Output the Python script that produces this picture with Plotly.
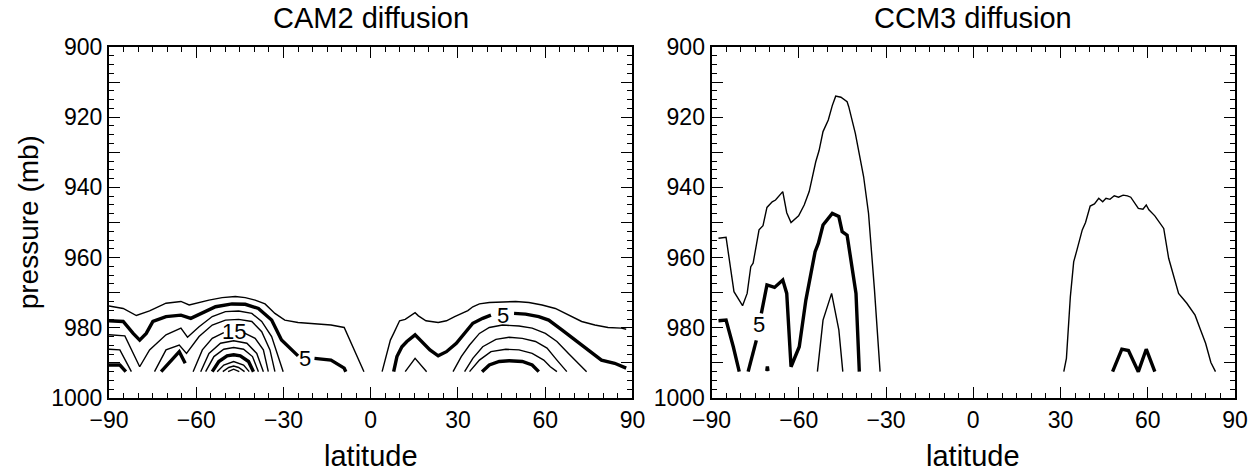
import plotly.graph_objects as go

# ---------------- CAM2 diffusion (left panel) contour lines ----------------
# latitude (deg) / pressure (mb) along each contour segment
cam2_s_outer_lat = [-90.0, -85.12, -80.6, -76.05, -70.4, -65.27, -62.44, -55.63, -51.1, -46.56, -43.16,
                    -39.75, -36.35, -32.95, -29.55, -25.0, -13.67, -9.13, -2.33]
cam2_s_outer_p = [973.8, 974.5, 976.5, 975.2, 973.0, 972.5, 973.5, 972.1, 971.4, 971.1, 971.4,
                  972.1, 973.2, 975.9, 977.8, 978.5, 979.2, 979.9, 992.5]

cam2_s_five_a_lat = [-90.0, -85.12, -81.7, -79.45, -77.2, -74.9, -70.4, -65.27, -61.87, -56.77, -53.36,
                     -47.7, -43.16, -38.62, -34.08, -30.68, -27.28, -25.0]
cam2_s_five_a_p = [978.0, 978.2, 981.6, 983.5, 981.6, 978.2, 976.8, 976.4, 977.3, 975.4, 974.0,
                   973.2, 973.3, 974.5, 977.8, 983.5, 986.3, 988.0]
cam2_s_five_b_lat = [-19.34, -13.67, -9.13, -8.56]
cam2_s_five_b_p = [988.7, 989.2, 991.5, 992.5]

cam2_s_c3_lat = [-90.0, -84.55, -79.45, -76.05, -70.4, -65.27, -63.0, -59.03, -54.5, -49.96, -45.43,
                 -40.89, -37.49, -34.08, -30.11]
cam2_s_c3_p = [982.0, 982.3, 991.1, 986.3, 982.0, 980.1, 982.7, 979.7, 976.8, 975.4, 975.2,
               975.9, 978.2, 982.5, 992.5]

cam2_s_c4a_lat = [-90.0, -86.26, -82.3]
cam2_s_c4a_p = [986.1, 986.3, 992.5]
cam2_s_c4b_lat = [-74.35, -70.4, -65.84, -63.35, -59.03, -54.5, -49.96, -45.43, -40.89, -37.49, -34.65, -32.95]
cam2_s_c4b_p = [992.5, 986.3, 984.9, 987.3, 982.5, 979.2, 977.8, 977.6, 978.2, 981.1, 986.3, 992.5]

cam2_s_ten_a_lat = [-90.0, -86.26, -84.21]
cam2_s_ten_a_p = [990.6, 990.6, 992.5]
cam2_s_ten_b_lat = [-72.08, -68.68, -65.84, -63.8]
cam2_s_ten_b_p = [992.5, 989.2, 986.8, 990.1]

cam2_s_fifteen_a_lat = [-61.08, -57.9, -54.5, -50.53]
cam2_s_fifteen_a_p = [992.5, 986.3, 983.0, 981.4]
cam2_s_fifteen_b_lat = [-43.72, -39.75, -36.92, -35.22]
cam2_s_fifteen_b_p = [981.4, 983.0, 986.3, 992.5]

cam2_s_r3_lat = [-58.47, -55.63, -51.66, -47.13, -42.59, -39.19, -36.92]
cam2_s_r3_p = [992.5, 987.3, 984.4, 983.7, 984.4, 987.3, 992.5]
cam2_s_r4_lat = [-56.77, -53.93, -50.53, -47.13, -43.72, -40.66, -38.62]
cam2_s_r4_p = [992.5, 988.2, 986.1, 985.6, 986.1, 988.2, 992.5]
cam2_s_r5_lat = [-54.5, -52.23, -49.4, -47.13, -44.86, -42.02, -40.32]
cam2_s_r5_p = [992.5, 989.6, 988.0, 987.7, 988.0, 989.6, 992.5]
cam2_s_r6_lat = [-52.8, -50.53, -47.13, -43.72, -41.79]
cam2_s_r6_p = [992.5, 990.6, 989.6, 990.6, 992.5]
cam2_s_r7_lat = [-50.87, -48.83, -47.13, -45.43, -43.38]
cam2_s_r7_p = [992.5, 991.3, 990.9, 991.3, 992.5]
cam2_s_r8_lat = [-49.05, -47.13, -45.2]
cam2_s_r8_p = [992.5, 991.8, 992.5]

cam2_n_outer_lat = [3.91, 6.75, 7.88, 9.92, 11.85, 13.55, 15.25, 16.39, 18.98, 23.19, 26.03, 28.86, 31.13,
                    33.4, 35.1, 37.37, 40.77, 45.31, 49.84, 54.38, 58.92, 63.46, 67.99, 72.53, 77.06,
                    81.6, 86.14, 87.84]
cam2_n_outer_p = [992.5, 983.5, 981.6, 978.0, 977.6, 976.6, 975.7, 976.6, 978.0, 978.5, 978.0, 976.8, 975.9,
                  975.1, 974.0, 973.2, 972.8, 972.6, 972.5, 972.8, 973.5, 974.5, 976.4, 978.2, 979.2,
                  979.9, 980.1, 980.4]

cam2_n_five_a_lat = [7.88, 9.01, 10.72, 12.42, 15.25, 17.52, 20.36, 23.19, 26.03, 29.43, 32.27, 35.1, 38.5, 41.34]
cam2_n_five_a_p = [992.5, 988.2, 985.4, 983.9, 982.0, 983.9, 986.3, 988.0, 986.8, 984.4, 981.6, 978.7, 977.3, 976.4]
cam2_n_five_b_lat = [49.28, 53.25, 57.78, 61.19, 65.72, 70.26, 74.8, 79.33, 83.87, 87.84]
cam2_n_five_b_p = [975.9, 976.1, 976.8, 977.8, 980.6, 983.5, 986.3, 989.2, 990.1, 991.5]

cam2_n_cap_lat = [11.85, 15.25, 19.22]
cam2_n_cap_p = [992.5, 988.7, 992.5]

cam2_n_c3_lat = [28.3, 31.13, 33.97, 37.37, 40.77, 45.31, 50.98, 55.51, 60.05, 64.02, 67.99, 71.39, 74.23]
cam2_n_c3_p = [992.5, 988.2, 984.9, 981.6, 979.9, 979.2, 979.5, 980.1, 981.6, 983.9, 987.3, 990.1, 992.5]
cam2_n_c4_lat = [32.27, 35.1, 38.5, 43.04, 47.58, 52.11, 56.65, 60.62, 64.02, 67.42]
cam2_n_c4_p = [992.5, 988.7, 985.4, 983.3, 982.7, 983.0, 983.9, 985.8, 989.2, 992.5]
cam2_n_c5_lat = [33.97, 37.37, 41.34, 46.44, 50.98, 55.51, 59.49, 61.75, 64.02]
cam2_n_c5_p = [992.5, 989.2, 986.8, 986.1, 986.3, 987.3, 989.2, 991.1, 992.5]
cam2_n_ten_lat = [38.28, 40.77, 44.17, 47.58, 52.11, 55.51, 57.78]
cam2_n_ten_p = [992.5, 990.6, 989.6, 989.4, 989.6, 990.6, 992.5]

# ---------------- CCM3 diffusion (right panel) contour lines ----------------
ccm3_s_outer_lat = [-87.61, -85.0, -82.28, -79.33, -77.75, -76.5, -75.7, -73.66, -72.3, -70.94, -69.13,
                    -67.99, -65.5, -64.14, -62.66, -60.05, -58.13, -56.42, -54.16, -53.02, -51.66,
                    -49.85, -48.48, -47.3, -45.5, -43.38, -42.82, -40.55, -37.71, -36.01, -33.97, -32.04]
ccm3_s_outer_p = [954.5, 954.2, 969.7, 973.7, 970.2, 962.6, 961.6, 952.1, 950.9, 945.7, 944.1,
                  943.6, 941.2, 947.2, 950.0, 948.1, 945.0, 941.2, 932.7, 929.5, 924.1,
                  920.8, 916.7, 914.0, 914.3, 915.6, 917.0, 924.6, 936.9, 947.4, 969.2, 992.5]

ccm3_s_five_a_lat = [-87.61, -85.0, -82.51, -80.47]
ccm3_s_five_a_p = [978.0, 977.8, 985.4, 992.5]
ccm3_s_five_b_lat = [-77.41, -75.7, -74.6]
ccm3_s_five_b_p = [992.5, 987.3, 983.6]
ccm3_s_five_c_lat = [-72.87, -70.94, -68.33, -65.5, -64.14, -62.66, -59.83, -57.56, -54.38, -53.25, -51.66,
                     -48.48, -46.22, -45.08, -43.38, -41.68, -40.32, -39.18]
ccm3_s_five_c_p = [975.9, 967.8, 968.5, 966.4, 970.2, 991.1, 985.4, 972.1, 958.3, 955.9, 950.7,
                   947.4, 948.3, 952.6, 953.6, 962.6, 970.2, 992.5]
ccm3_s_five_d_lat = [-71.0, -70.8, -70.6]
ccm3_s_five_d_p = [992.3, 991.0, 992.3]

ccm3_s_inner_lat = [-53.59, -51.66, -48.71, -46.22, -44.86]
ccm3_s_inner_p = [992.5, 977.8, 970.2, 980.6, 992.5]

ccm3_n_outer_lat = [31.13, 32.03, 33.39, 34.53, 35.66, 37.48, 38.61, 40.2, 41.67, 43.15, 44.51, 45.64, 47.0,
                    48.48, 49.95, 51.54, 53.02, 54.15, 56.76, 58.35, 59.48, 60.39, 62.43, 64.02, 65.49,
                    67.19, 68.89, 70.6, 73.43, 76.27, 77.97, 79.89, 81.71, 83.3]
ccm3_n_outer_p = [992.5, 988.7, 971.1, 961.2, 957.8, 952.1, 950.0, 945.3, 944.7, 943.1, 944.1, 943.1, 943.4,
                  942.4, 942.8, 942.2, 942.4, 942.8, 946.0, 946.2, 945.0, 946.4, 948.1, 949.8, 951.7,
                  960.2, 965.0, 970.2, 973.0, 976.4, 980.2, 984.4, 989.9, 992.5]
ccm3_n_five_lat = [47.91, 51.09, 53.36, 56.76, 59.48, 62.43]
ccm3_n_five_p = [992.5, 986.1, 986.5, 992.5, 986.1, 992.5]

# contour labels: (text, latitude, pressure)
cam2_labels = [("15", -47.13, 981.1), ("5", -22.74, 988.7), ("5", 45.6, 976.4)]
ccm3_labels = [("5", -73.66, 979.2)]

THIN = 1.4
THICK = 3.4

cam2_lines = [
    (cam2_s_outer_lat, cam2_s_outer_p, THIN),
    (cam2_s_five_a_lat, cam2_s_five_a_p, THICK),
    (cam2_s_five_b_lat, cam2_s_five_b_p, THICK),
    (cam2_s_c3_lat, cam2_s_c3_p, THIN),
    (cam2_s_c4a_lat, cam2_s_c4a_p, THIN),
    (cam2_s_c4b_lat, cam2_s_c4b_p, THIN),
    (cam2_s_ten_a_lat, cam2_s_ten_a_p, THICK),
    (cam2_s_ten_b_lat, cam2_s_ten_b_p, THICK),
    (cam2_s_fifteen_a_lat, cam2_s_fifteen_a_p, THIN),
    (cam2_s_fifteen_b_lat, cam2_s_fifteen_b_p, THIN),
    (cam2_s_r3_lat, cam2_s_r3_p, THIN),
    (cam2_s_r4_lat, cam2_s_r4_p, THIN),
    (cam2_s_r5_lat, cam2_s_r5_p, THICK),
    (cam2_s_r6_lat, cam2_s_r6_p, THIN),
    (cam2_s_r7_lat, cam2_s_r7_p, THIN),
    (cam2_s_r8_lat, cam2_s_r8_p, THIN),
    (cam2_n_outer_lat, cam2_n_outer_p, THIN),
    (cam2_n_five_a_lat, cam2_n_five_a_p, THICK),
    (cam2_n_five_b_lat, cam2_n_five_b_p, THICK),
    (cam2_n_cap_lat, cam2_n_cap_p, THIN),
    (cam2_n_c3_lat, cam2_n_c3_p, THIN),
    (cam2_n_c4_lat, cam2_n_c4_p, THIN),
    (cam2_n_c5_lat, cam2_n_c5_p, THIN),
    (cam2_n_ten_lat, cam2_n_ten_p, THICK),
]

ccm3_lines = [
    (ccm3_s_outer_lat, ccm3_s_outer_p, THIN),
    (ccm3_s_five_a_lat, ccm3_s_five_a_p, THICK),
    (ccm3_s_five_b_lat, ccm3_s_five_b_p, THICK),
    (ccm3_s_five_c_lat, ccm3_s_five_c_p, THICK),
    (ccm3_s_five_d_lat, ccm3_s_five_d_p, THICK),
    (ccm3_s_inner_lat, ccm3_s_inner_p, THIN),
    (ccm3_n_outer_lat, ccm3_n_outer_p, THIN),
    (ccm3_n_five_lat, ccm3_n_five_p, THICK),
]

lat_ticks = [-90, -60, -30, 0, 30, 60, 90]
p_ticks = [900, 910, 920, 930, 940, 950, 960, 970, 980, 990, 1000]
p_tick_text = ["900", "", "920", "", "940", "", "960", "", "980", "", "1000"]

FONT = "Liberation Sans, Arial, Helvetica, sans-serif"

fig = go.Figure()

for lines, xa, ya in [(cam2_lines, "x", "y"), (ccm3_lines, "x2", "y2")]:
    for lat, p, w in lines:
        fig.add_trace(go.Scatter(x=lat, y=p, mode="lines", xaxis=xa, yaxis=ya,
                                 line=dict(color="black", width=w), hoverinfo="skip",
                                 showlegend=False))

for labels, xa, ya in [(cam2_labels, "x", "y"), (ccm3_labels, "x2", "y2")]:
    for txt, lat, p in labels:
        fig.add_annotation(x=lat, y=p, xref=xa, yref=ya, text=txt, showarrow=False,
                           xanchor="center", yanchor="middle",
                           font=dict(size=22, color="black", family=FONT))

xaxis_style = dict(range=[-90, 90], tickmode="array", tickvals=lat_ticks,
                   ticks="inside", ticklen=11, tickwidth=1.2, tickcolor="black",
                   minor=dict(dtick=5, ticks="inside", ticklen=5, tickwidth=1, tickcolor="black"),
                   showline=True, linecolor="black", linewidth=2, mirror="ticks",
                   showgrid=False, zeroline=False,
                   tickfont=dict(size=23, color="black", family=FONT))
yaxis_style = dict(range=[1000, 900], tickmode="array", tickvals=p_ticks, ticktext=p_tick_text,
                   ticks="inside", ticklen=11, tickwidth=1.2, tickcolor="black",
                   minor=dict(dtick=2.5, ticks="inside", ticklen=5, tickwidth=1, tickcolor="black"),
                   showline=True, linecolor="black", linewidth=2, mirror="ticks",
                   showgrid=False, zeroline=False,
                   tickfont=dict(size=23, color="black", family=FONT))

fig.update_layout(
    width=1260, height=472,
    margin=dict(l=109, r=13, t=47, b=74),
    paper_bgcolor="white", plot_bgcolor="white",
    font=dict(family=FONT, color="black"),
    xaxis=dict(domain=[0, 0.4649], anchor="y", **xaxis_style),
    yaxis=dict(domain=[0, 1], anchor="x", **yaxis_style),
    xaxis2=dict(domain=[0.5351, 1], anchor="y2", **xaxis_style),
    yaxis2=dict(domain=[0, 1], anchor="x2", **yaxis_style),
)

# panel titles and axis titles
for cx, title in [(0.4649 / 2, "CAM2 diffusion"), ((0.5351 + 1) / 2, "CCM3 diffusion")]:
    fig.add_annotation(x=cx, y=1.0826, xref="paper", yref="paper", text=title, showarrow=False,
                       font=dict(size=29, color="black", family=FONT),
                       xanchor="center", yanchor="middle")
    fig.add_annotation(x=cx, y=-0.166, xref="paper", yref="paper", text="latitude", showarrow=False,
                       font=dict(size=29, color="black", family=FONT),
                       xanchor="center", yanchor="middle")
fig.add_annotation(x=-0.0712, y=0.5, xref="paper", yref="paper", text="pressure (mb)", showarrow=False,
                   textangle=-90, font=dict(size=28, color="black", family=FONT),
                   xanchor="center", yanchor="middle")

fig.write_html("out.html")
